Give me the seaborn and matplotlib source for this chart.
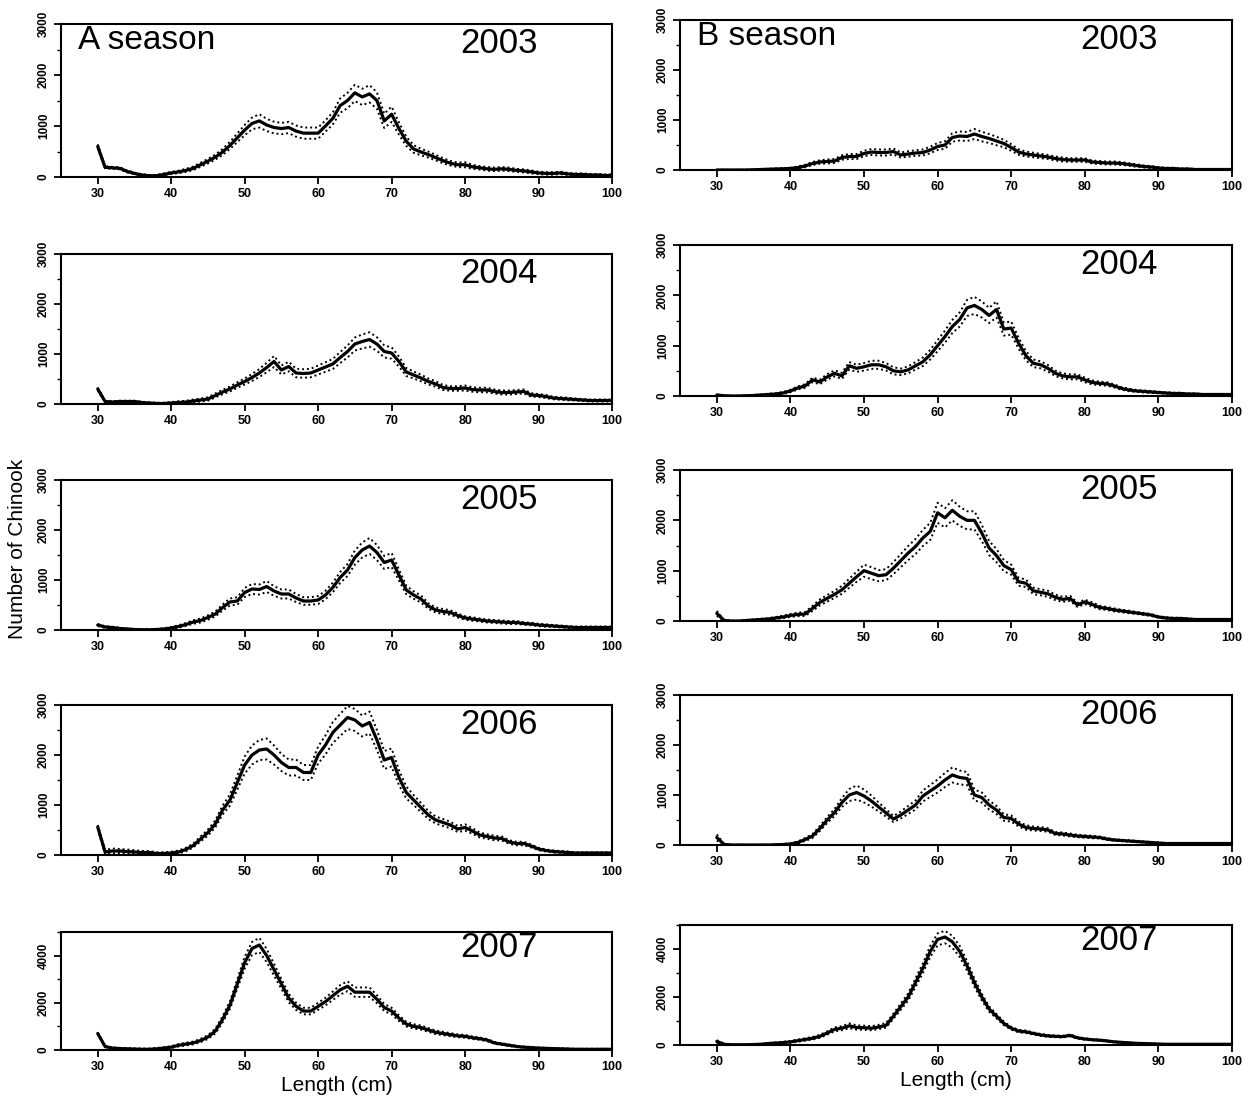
import numpy as np
import pandas as pd
import matplotlib
matplotlib.use("Agg")
import matplotlib.pyplot as plt
from matplotlib.ticker import MultipleLocator
import seaborn as sns

sns.set_style("ticks")
plt.rcParams['font.family'] = ['Liberation Sans', 'DejaVu Sans']
plt.rcParams['text.color'] = 'black'
plt.rcParams['axes.labelcolor'] = 'black'
plt.rcParams['xtick.color'] = 'black'
plt.rcParams['ytick.color'] = 'black'

length_cm = list(range(30, 101))
x_ticks = [30, 40, 50, 60, 70, 80, 90, 100]
years = ["2003", "2004", "2005", "2006", "2007"]
season_labels = ["A season", "B season"]

# ---- A season: mean and half-width of the dotted band ----
a2003_mean = [600,190,180,170,110,70,40,25,25,50, 80,100,130,170,240,310,390,490,620,770,
              920,1050,1100,1020,970,950,970,900,860,860, 860,1000,1150,1400,1500,1650,1570,1630,1500,1100,
              1230,950,700,550,490,440,380,320,270,240, 240,200,180,160,150,160,150,130,120,100,
              80,70,70,80,60,50,50,40,40,30, 30]
a2003_hw = [40,20,20,20,20,15,15,15,15,20, 20,25,30,35,40,45,50,60,70,85,
            100,115,130,120,115,110,110,110,110,110, 110,110,120,140,150,160,160,170,160,140,
            150,120,90,75,65,60,55,50,45,45, 50,40,35,35,35,35,35,30,30,30,
            25,25,25,25,20,20,20,20,20,20, 20]

a2004_mean = [300,50,40,50,50,50,30,20,10,10, 20,30,40,60,80,100,170,240,300,380,
              450,530,620,730,850,680,750,620,610,620, 680,740,800,930,1050,1200,1250,1290,1200,1050,
              1020,850,640,580,520,450,400,330,310,310, 320,290,280,280,250,230,230,240,250,180,
              170,150,120,110,100,90,80,70,70,70, 70]
a2004_hw = [30,15,15,15,15,15,15,15,15,15, 20,25,25,30,30,35,40,45,50,55,
            60,70,80,95,110,90,95,85,85,85, 90,95,100,110,120,130,140,145,135,120,
            115,100,80,70,65,60,55,50,45,45, 50,45,45,45,40,40,40,40,40,35,
            30,30,25,25,25,20,20,20,20,20, 20]

a2005_mean = [100,60,50,30,20,10,5,5,10,20, 40,70,110,160,190,250,320,450,560,580,
              750,820,810,870,780,720,720,640,580,580, 600,700,850,1050,1200,1450,1600,1680,1550,1350,
              1400,1100,800,700,620,480,400,370,350,290, 240,220,200,180,170,160,150,150,130,120,
              100,90,80,70,60,50,50,50,50,50, 50]
a2005_hw = [20,15,15,15,10,10,10,10,10,15, 20,25,30,35,40,45,50,60,70,75,
            90,100,100,110,95,90,90,80,75,75, 80,85,95,110,120,140,150,160,150,130,
            140,110,85,75,70,55,50,50,45,40, 35,35,30,30,30,30,30,30,25,25,
            25,25,20,20,20,20,20,20,20,20, 20]

a2006_mean = [560,60,80,80,70,60,50,50,30,30, 40,60,110,190,320,450,620,900,1100,1450,
              1800,2000,2100,2120,2000,1850,1750,1750,1650,1650, 2000,2200,2450,2600,2750,2700,2580,2650,2300,1900,
              1950,1550,1250,1100,950,800,700,650,600,520, 550,480,400,370,340,330,260,230,230,180,
              120,90,70,60,50,40,40,40,40,40, 40]
a2006_hw = [40,40,50,40,40,35,30,30,25,25, 25,30,35,40,50,60,70,90,110,140,
            170,190,200,210,190,170,160,160,150,150, 170,190,210,220,230,220,210,220,200,180,
            180,150,120,100,90,80,70,70,65,60, 65,55,50,45,45,40,35,35,35,30,
            25,20,20,20,20,15,15,15,15,15, 15]

a2007_mean = [700,150,80,60,50,40,30,30,50,80, 120,200,250,300,400,550,800,1300,1900,2800,
              3700,4300,4450,4000,3400,2800,2200,1850,1650,1650, 1850,2050,2300,2550,2700,2450,2450,2450,2150,1800,
              1650,1350,1100,1000,950,850,750,700,650,600, 580,520,480,420,300,250,200,150,120,100,
              80,70,60,50,40,30,30,30,30,30, 30]
a2007_hw = [30,30,30,30,30,30,30,30,30,40, 40,50,60,60,70,80,100,130,160,200,
            250,280,300,280,250,210,180,150,140,140, 150,160,180,200,210,200,200,200,170,150,
            140,120,100,90,90,80,75,70,65,60, 60,55,50,45,40,35,30,30,25,25,
            25,20,20,20,20,20,20,20,20,20, 20]

# ---- B season ----
b2003_mean = [0,0,0,0,0,5,10,15,20,25, 30,50,80,130,160,170,180,250,270,270,
              330,360,350,350,370,300,320,340,350,400, 470,500,650,680,670,720,670,630,580,530,
              450,360,320,300,280,260,230,210,200,200, 200,160,150,140,140,130,110,90,70,60,
              40,30,30,20,20,10,10,10,10,10, 10]
b2003_hw = [5,5,5,5,5,5,5,10,10,10, 15,20,25,30,35,40,40,45,50,50,
            55,60,60,60,60,50,55,55,60,65, 70,75,85,90,90,100,95,90,85,75,
            65,55,50,45,45,40,40,40,35,35, 35,30,30,30,30,30,25,25,20,20,
            15,15,15,10,10,10,10,10,10,10, 10]

b2004_mean = [20,5,0,0,5,10,20,30,40,60, 100,160,200,320,280,380,450,400,600,550,
              580,620,620,580,500,480,520,600,680,820, 1000,1180,1380,1520,1750,1800,1720,1600,1720,1330,
              1350,1050,800,650,620,550,450,400,380,380, 320,270,250,240,200,150,120,100,90,80,
              70,60,50,50,40,40,30,30,30,30, 30]
b2004_hw = [10,5,5,5,5,10,10,15,15,20, 25,30,35,45,45,55,60,60,75,70,
            75,80,80,75,70,65,70,75,85,95, 110,120,130,140,160,170,160,150,160,130,
            130,110,90,75,70,65,55,50,50,50, 45,40,35,35,30,25,25,20,20,20,
            15,15,15,15,10,10,10,10,10,10, 10]

b2005_mean = [150,10,0,0,10,20,30,40,60,80, 110,130,140,250,370,450,530,620,750,880,
              1000,950,900,920,1050,1200,1350,1480,1650,1780, 2150,2050,2200,2080,2000,2000,1750,1450,1300,1100,
              1020,780,750,600,570,540,470,430,450,320, 380,330,270,250,220,200,180,160,140,120,
              80,60,50,50,40,30,30,30,30,30, 30]
b2005_hw = [50,10,5,5,10,10,15,15,20,25, 30,35,40,50,60,65,70,80,90,100,
            120,120,110,110,120,130,140,150,160,170, 200,190,200,190,180,180,160,140,130,110,
            100,80,75,65,60,60,55,50,50,40, 45,40,35,30,30,25,25,20,20,20,
            15,15,15,15,10,10,10,10,10,10, 10]

b2006_mean = [150,10,0,0,0,0,0,0,5,10, 20,50,110,180,330,500,650,850,1000,1050,
              980,880,760,640,520,600,700,800,980,1080, 1180,1300,1400,1350,1330,1000,950,800,700,550,
              530,420,350,330,320,300,230,220,200,180, 170,160,150,120,100,90,80,70,60,50,
              40,30,30,30,30,30,30,30,30,30, 30]
b2006_hw = [60,10,5,5,5,5,5,5,5,10, 15,20,30,40,50,60,70,90,120,140,
            130,110,90,75,60,70,80,90,110,120, 130,140,150,140,130,110,100,90,80,65,
            60,50,45,40,40,35,30,30,30,25, 25,25,20,20,15,15,15,15,10,10,
            10,10,10,10,10,10,10,10,10,10, 10]

b2007_mean = [150,30,10,10,10,20,30,60,80,100, 130,180,230,280,360,500,650,700,800,730,
              720,700,750,820,1200,1600,2000,2600,3200,3900, 4400,4500,4300,3900,3300,2600,2000,1500,1200,900,
              700,580,550,480,420,380,360,350,400,300, 250,220,200,170,130,110,90,70,60,50,
              40,30,30,30,30,30,30,30,30,30, 30]
b2007_hw = [50,20,10,10,10,15,20,25,30,35, 40,45,50,55,60,70,80,85,100,90,
            85,85,90,95,110,130,150,180,200,230, 250,260,250,230,200,170,140,110,90,75,
            60,55,50,45,40,40,35,35,40,30, 30,25,25,20,20,15,15,15,10,10,
            10,10,10,10,10,10,10,10,10,10, 10]

a_series = [(a2003_mean, a2003_hw), (a2004_mean, a2004_hw), (a2005_mean, a2005_hw),
            (a2006_mean, a2006_hw), (a2007_mean, a2007_hw)]
b_series = [(b2003_mean, b2003_hw), (b2004_mean, b2004_hw), (b2005_mean, b2005_hw),
            (b2006_mean, b2006_hw), (b2007_mean, b2007_hw)]

W, H = 1260, 1109
fig = plt.figure(figsize=(W / 100, H / 100), dpi=100)

# pixel boxes (top, bottom) of each panel
left_rows = [(24, 177), (254, 404), (480, 630), (705, 855), (932, 1050)]
right_rows = [(20, 170), (245, 396), (470, 621), (695, 845), (925, 1045)]
cols = [(61, 612), (680, 1232)]

for c, (rows, series) in enumerate([(left_rows, a_series), (right_rows, b_series)]):
    x0, x1 = cols[c]
    for r, ((top, bot), (mean, hw)) in enumerate(zip(rows, series)):
        ax = fig.add_axes([x0 / W, 1 - bot / H, (x1 - x0) / W, (bot - top) / H])
        m = np.array(mean, dtype=float)
        h = np.array(hw, dtype=float)
        df = pd.DataFrame({"Length": length_cm, "mean": m, "lower": m - h, "upper": m + h})
        sns.lineplot(data=df, x="Length", y="upper", ax=ax, color="black", lw=1.4,
                     linestyle=(0, (1, 1.5)))
        sns.lineplot(data=df, x="Length", y="lower", ax=ax, color="black", lw=1.4,
                     linestyle=(0, (1, 1.5)))
        sns.lineplot(data=df, x="Length", y="mean", ax=ax, color="black", lw=2.3)
        ax.set_xlim(25, 100)
        if r == 4:
            ax.set_ylim(0, 5000)
            ax.set_yticks([0, 2000, 4000])
            ax.yaxis.set_minor_locator(MultipleLocator(1000))
        else:
            ax.set_ylim(0, 3000)
            ax.set_yticks([0, 1000, 2000, 3000])
            ax.yaxis.set_minor_locator(MultipleLocator(500))
        ax.set_xticks(x_ticks)
        ax.set_xticklabels([str(t) for t in x_ticks], fontsize=9, fontweight="bold")
        for lab in ax.get_yticklabels():
            lab.set_rotation(90)
            lab.set_va("center")
            lab.set_fontsize(8.5)
            lab.set_fontweight("bold")
        ax.tick_params(axis="both", which="major", direction="out", length=5, width=1.3, pad=3)
        ax.tick_params(axis="y", which="minor", direction="out", length=3, width=1.0)
        for sp in ax.spines.values():
            sp.set_visible(True)
            sp.set_linewidth(1.5)
            sp.set_color("black")
        ax.set_ylabel("")
        if r == 4:
            ax.set_xlabel("Length (cm)", fontsize=15, labelpad=2, color="black")
        else:
            ax.set_xlabel("")
        ax.text(0.795, 0.87, years[r], transform=ax.transAxes, fontsize=25,
                ha="center", va="center", color="black")
        if r == 0:
            ax.text(0.03, 0.89, season_labels[c], transform=ax.transAxes, fontsize=24,
                    ha="left", va="center", color="black")

fig.text(0.014, 0.505, "Number of Chinook", rotation=90, fontsize=15,
         ha="center", va="center", color="black")

fig.savefig("out.png", dpi=100, facecolor="white")
